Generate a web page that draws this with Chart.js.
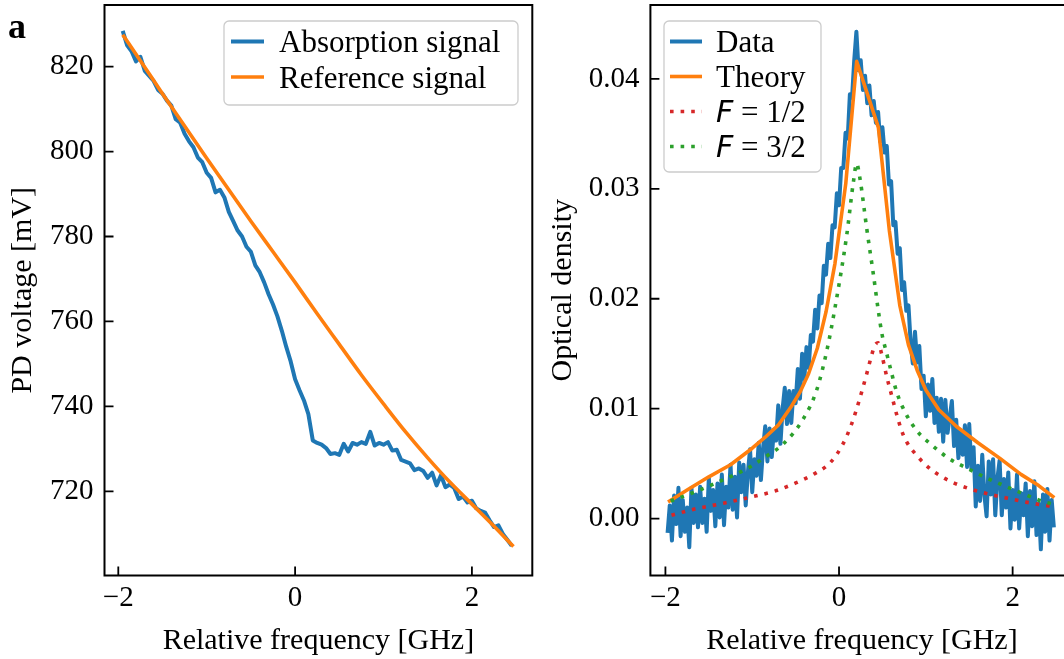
<!DOCTYPE html>
<html lang="en">
<head>
<meta charset="UTF-8">
<title>Absorption signal and optical density</title>
<script src="https://cdn.jsdelivr.net/npm/chart.js@4.4.1/dist/chart.umd.min.js"></script>
<style>
  html, body { margin: 0; padding: 0; background: #fff; overflow: hidden; }
  body { width: 1064px; height: 659px; position: relative; }
  canvas { position: absolute; top: 0; }
  #absChart { left: 0; }
  #odChart { left: 545px; }
</style>
</head>
<body>
<canvas id="absChart" width="545" height="659"></canvas>
<canvas id="odChart" width="545" height="659"></canvas>
<script>
// ---- panel a (left): photodiode voltage ----
var freqAbs = [-1.95,-1.90,-1.85,-1.80,-1.75,-1.70,-1.65,-1.60,-1.55,-1.50,-1.45,-1.40,-1.35,-1.30,-1.25,-1.20,-1.15,-1.10,-1.05,-1.00,
  -0.95,-0.90,-0.85,-0.80,-0.75,-0.70,-0.65,-0.60,-0.55,-0.50,-0.45,-0.40,-0.35,-0.30,-0.25,-0.20,-0.15,-0.10,-0.05,0.00,
  0.05,0.10,0.15,0.20,0.25,0.30,0.35,0.40,0.45,0.50,0.55,0.60,0.65,0.70,0.75,0.80,0.85,0.90,0.95,1.00,
  1.05,1.10,1.15,1.20,1.25,1.30,1.35,1.40,1.45,1.50,1.55,1.60,1.65,1.70,1.75,1.80,1.85,1.90,1.95,2.00,
  2.05,2.10,2.15,2.20,2.25,2.30,2.35,2.40,2.45];
var absSignal = [828.4,825.0,823.6,821.2,822.3,819.0,817.8,816.6,814.5,813.6,812.0,810.8,807.6,806.8,804.2,802.4,801.0,798.6,797.5,795.0,
  793.8,790.4,791.0,789.2,785.8,783.6,781.4,780.0,777.6,776.4,773.2,771.6,769.2,766.4,764.0,761.2,757.8,754.0,750.6,746.4,
  743.8,741.4,738.2,732.0,731.4,731.0,730.2,728.8,729.0,728.6,731.2,729.4,731.4,731.0,731.6,731.2,734.0,730.8,731.4,731.0,
  731.6,729.6,729.8,727.4,727.0,726.6,725.0,725.4,724.8,723.2,724.4,721.4,723.8,721.0,721.6,720.8,718.2,718.8,717.4,717.8,
  716.0,715.4,715.0,713.2,711.6,712.0,710.0,708.6,707.2];
var freqRef = [-1.95,-1.75,-1.5,-1.25,-1.0,-0.75,-0.5,-0.25,0,0.25,0.5,0.75,1.0,1.25,1.5,1.75,2.0,2.25,2.47];
var refSignal = [827.5,821.4,813.6,806.0,798.4,791.0,783.6,776.4,769.2,761.8,754.6,747.4,740.6,734.0,727.9,722.2,717.0,711.8,707.0];
var absXTicks = [-2, 0, 2];
var absYTicks = [720, 740, 760, 780, 800, 820];

// ---- panel b (right): optical density ----
var freqOD = [-1.975,-1.95,-1.925,-1.9,-1.875,-1.85,-1.825,-1.8,-1.775,-1.75,-1.725,-1.7,-1.675,-1.65,-1.625,-1.6,-1.575,-1.55,-1.525,-1.5,
  -1.475,-1.45,-1.425,-1.4,-1.375,-1.35,-1.325,-1.3,-1.275,-1.25,-1.225,-1.2,-1.175,-1.15,-1.125,-1.1,-1.075,-1.05,-1.025,-1.0,
  -0.975,-0.95,-0.925,-0.9,-0.875,-0.85,-0.825,-0.8,-0.775,-0.75,-0.725,-0.7,-0.675,-0.65,-0.625,-0.6,-0.575,-0.55,-0.525,-0.5,
  -0.475,-0.45,-0.425,-0.4,-0.375,-0.35,-0.325,-0.3,-0.275,-0.25,-0.225,-0.2,-0.175,-0.15,-0.125,-0.1,-0.075,-0.05,-0.025,0,
  0.025,0.05,0.075,0.1,0.125,0.15,0.175,0.2,0.225,0.25,0.275,0.3,0.325,0.35,0.375,0.4,0.425,0.45,0.475,0.5,
  0.525,0.55,0.575,0.6,0.625,0.65,0.675,0.7,0.725,0.75,0.775,0.8,0.825,0.85,0.875,0.9,0.925,0.95,0.975,1.0,
  1.025,1.05,1.075,1.1,1.125,1.15,1.175,1.2,1.225,1.25,1.275,1.3,1.325,1.35,1.375,1.4,1.425,1.45,1.475,1.5,
  1.525,1.55,1.575,1.6,1.625,1.65,1.675,1.7,1.725,1.75,1.775,1.8,1.825,1.85,1.875,1.9,1.925,1.95,1.975,2.0,
  2.025,2.05,2.075,2.1,2.125,2.15,2.175,2.2,2.225,2.25,2.275,2.3,2.325,2.35,2.375,2.4,2.425,2.45,2.475];
var odData = [-0.0013,0.0012,-0.0020,0.0021,-0.0005,0.0028,-0.0016,0.0017,-0.0012,0.0010,-0.0026,0.0028,-0.0004,0.0022,-0.0008,0.0029,-0.0004,0.0018,-0.0012,0.0037,
  0.0007,0.0026,-0.0007,0.0032,0.0001,0.0040,-0.0006,0.0029,0.0010,0.0049,0.0008,0.0038,0.0001,0.0051,0.0024,0.0049,0.0012,0.0042,0.0063,0.0024,
  0.0054,0.0039,0.0069,0.0035,0.0064,0.0084,0.0052,0.0082,0.0056,0.0081,0.0071,0.0103,0.0068,0.0100,0.0119,0.0086,0.0116,0.0087,0.0116,0.0105,
  0.0136,0.0109,0.0150,0.0127,0.0156,0.0137,0.0167,0.0161,0.0190,0.0173,0.0203,0.0196,0.0230,0.0222,0.0250,0.0237,0.0267,0.0265,0.0296,0.0285,
  0.0319,0.0319,0.0351,0.0346,0.0386,0.0383,0.0417,0.0443,0.0408,0.0417,0.0390,0.0403,0.0378,0.0394,0.0367,0.0380,0.0360,0.0370,0.0343,0.0356,
  0.0333,0.0339,0.0304,0.0307,0.0267,0.0270,0.0241,0.0246,0.0208,0.0215,0.0189,0.0194,0.0160,0.0141,0.0170,0.0142,0.0157,0.0118,0.0130,0.0093,
  0.0122,0.0098,0.0127,0.0087,0.0110,0.0079,0.0109,0.0070,0.0108,0.0078,0.0092,0.0107,0.0066,0.0090,0.0055,0.0080,0.0058,0.0085,0.0047,0.0086,
  0.0045,0.0065,0.0011,0.0048,0.0016,0.0058,0.0021,0.0002,0.0052,0.0022,0.0054,0.0003,0.0037,0.0053,0.0003,0.0036,0.0010,0.0042,-0.0009,0.0026,
  -0.0001,0.0040,-0.0009,0.0023,0.0003,0.0032,-0.0016,0.0025,-0.0007,0.0034,-0.0015,0.0014,-0.0028,0.0022,-0.0012,0.0027,-0.0020,0.0017,-0.0008];
var freqTheory = [-1.97,-1.75,-1.5,-1.25,-1.0,-0.85,-0.7,-0.55,-0.45,-0.35,-0.25,-0.15,-0.047,0.078,0.203,0.453,0.58,0.7,0.8,0.9,1.0,1.15,1.35,1.6,1.85,2.1,2.3,2.48];
var theory = [0.0015,0.0026,0.0038,0.0049,0.0064,0.0074,0.0085,0.0102,0.0115,0.0132,0.0155,0.0188,0.0232,0.0305,0.0416,0.0356,0.0262,0.0194,0.0158,0.0135,0.0117,0.0099,0.0084,0.0069,0.0055,0.0040,0.0030,0.0019];
var freqF12 = [-1.93,-1.7,-1.33,-0.99,-0.74,-0.51,-0.3,-0.1,0.04,0.14,0.2,0.26,0.32,0.37,0.41,0.45,0.49,0.55,0.61,0.67,0.74,0.8,0.9,0.97,1.07,1.28,1.51,1.74,1.97,2.22,2.45];
var odF12 = [0.0003,0.0008,0.0014,0.0020,0.0025,0.0032,0.0040,0.0051,0.0067,0.0085,0.0099,0.0115,0.0132,0.0147,0.0157,0.0160,0.0150,0.0129,0.0111,0.0093,0.0076,0.0067,0.0057,0.0051,0.0044,0.0034,0.0027,0.0022,0.0018,0.0014,0.0011];
var freqF32 = [-1.94,-1.7,-1.37,-1.025,-0.83,-0.64,-0.41,-0.257,-0.14,-0.046,0.089,0.165,0.203,0.242,0.319,0.396,0.453,0.492,0.55,0.607,0.665,0.76,0.895,1.068,1.26,1.47,1.7,1.93,2.14,2.37,2.47];
var odF32 = [0.0016,0.0023,0.0034,0.0047,0.0057,0.0068,0.0091,0.0117,0.0153,0.0192,0.0258,0.0306,0.0323,0.0309,0.0264,0.0222,0.0189,0.0169,0.0150,0.0132,0.0115,0.0097,0.0080,0.0067,0.0055,0.0046,0.0037,0.0029,0.0022,0.0015,0.0013];
var odXTicks = [-2, 0, 2];
var odYTicks = [0, 0.01, 0.02, 0.03, 0.04];

var SERIF = "'Liberation Serif', 'Times New Roman', serif";
Chart.defaults.font.family = SERIF;
Chart.defaults.color = '#000';

function pts(xs, ys) {
  return xs.map(function (x, i) { return { x: x, y: ys[i] }; });
}
function signed(v) {
  return v < 0 ? '\u2212' + (-v) : String(v);
}

// legend label, "F = ..." gets a sans italic F like the mathtext one
function drawLabel(ctx, text, x, y) {
  var m = text.match(/^F (.*)$/);
  if (m) {
    ctx.font = "italic 30px 'DejaVu Sans', sans-serif";
    ctx.fillText('F', x, y);
    var w = ctx.measureText('F').width;
    ctx.font = '31px ' + SERIF;
    ctx.fillText(' ' + m[1], x + w, y);
  } else {
    ctx.font = '31px ' + SERIF;
    ctx.fillText(text, x, y);
  }
}

// axes frame, inward tick marks, legend box and panel letter
var panelDecor = {
  id: 'panelDecor',
  afterDatasetsDraw: function (chart, args, opts) {
    var ctx = chart.ctx, a = chart.chartArea;
    var xs = chart.scales.x, ys = chart.scales.y;
    ctx.save();
    ctx.strokeStyle = '#000';
    ctx.lineWidth = 2;
    ctx.strokeRect(a.left, a.top, a.right - a.left, a.bottom - a.top);
    ctx.lineWidth = 1.8;
    ctx.beginPath();
    xs.ticks.forEach(function (t) {
      var p = xs.getPixelForValue(t.value);
      ctx.moveTo(p, a.bottom); ctx.lineTo(p, a.bottom - opts.tickLen);
    });
    ys.ticks.forEach(function (t) {
      var p = ys.getPixelForValue(t.value);
      ctx.moveTo(a.left, p); ctx.lineTo(a.left + opts.tickLen, p);
    });
    ctx.stroke();

    var L = opts.legend;
    ctx.fillStyle = 'rgba(255,255,255,0.8)';
    ctx.strokeStyle = '#cccccc';
    ctx.lineWidth = 1.3;
    ctx.beginPath();
    ctx.roundRect(L.x, L.y, L.w, L.h, 5);
    ctx.fill();
    ctx.stroke();
    chart.data.datasets.forEach(function (ds, i) {
      var y = L.firstRow + i * L.rowGap;
      ctx.strokeStyle = ds.borderColor;
      ctx.lineWidth = ds.borderWidth;
      ctx.setLineDash(ds.borderDash || []);
      ctx.beginPath();
      ctx.moveTo(L.handleX, y);
      ctx.lineTo(L.handleX + L.handleLen, y);
      ctx.stroke();
      ctx.setLineDash([]);
      ctx.fillStyle = '#000';
      ctx.textBaseline = 'alphabetic';
      ctx.textAlign = 'left';
      drawLabel(ctx, ds.label, L.textX, y + 10.5);
    });

    if (opts.letter) {
      ctx.fillStyle = '#000';
      ctx.font = 'bold 36px ' + SERIF;
      ctx.textBaseline = 'alphabetic';
      ctx.fillText(opts.letter, 8, 38);
    }
    ctx.restore();
  }
};

function makeOptions(cfg) {
  return {
    responsive: false,
    animation: false,
    devicePixelRatio: 1,
    layout: { padding: { top: 5, right: cfg.padRight, bottom: 0, left: 0 } },
    elements: {
      point: { radius: 0, hoverRadius: 0 },
      line: { tension: 0, borderJoinStyle: 'round', fill: false }
    },
    plugins: {
      legend: { display: false },
      tooltip: { enabled: false },
      panelDecor: cfg.decor
    },
    scales: {
      x: {
        type: 'linear',
        min: cfg.xMin, max: cfg.xMax,
        grid: { display: false, drawTicks: false },
        border: { display: false },
        afterBuildTicks: function (s) { s.ticks = cfg.xTicks.map(function (v) { return { value: v }; }); },
        afterFit: function (s) { s.height = 83.5; s.paddingLeft = 0; s.paddingRight = 0; },
        ticks: { font: { size: 29 }, color: '#000', padding: 5.6, maxRotation: 0, autoSkip: false, callback: signed },
        title: { display: true, text: 'Relative frequency [GHz]', color: '#000', font: { size: 30 }, padding: { top: 0, bottom: 0 } }
      },
      y: {
        type: 'linear',
        min: cfg.yMin, max: cfg.yMax,
        grid: { display: false, drawTicks: false },
        border: { display: false },
        afterBuildTicks: function (s) { s.ticks = cfg.yTicks.map(function (v) { return { value: v }; }); },
        afterFit: function (s) { s.width = cfg.yAxisW; s.paddingTop = 0; s.paddingBottom = 0; },
        ticks: { font: { size: 29 }, color: '#000', padding: 11, autoSkip: false, callback: cfg.yFmt },
        title: { display: true, text: cfg.yTitle, color: '#000', font: { size: 30 }, padding: { top: cfg.yTitlePad, bottom: 0 } }
      }
    }
  };
}

new Chart(document.getElementById('absChart'), {
  type: 'line',
  data: {
    datasets: [{
      label: 'Absorption signal',
      data: pts(freqAbs, absSignal),
      borderColor: '#1f77b4',
      borderWidth: 4,
      order: 2
    }, {
      label: 'Reference signal',
      data: pts(freqRef, refSignal),
      borderColor: '#ff7f0e',
      borderWidth: 3.6,
      cubicInterpolationMode: 'monotone',
      order: 1
    }]
  },
  options: makeOptions({
    padRight: 12.7,
    xMin: -2.156, xMax: 2.683, xTicks: absXTicks,
    yMin: 700.2, yMax: 834.5, yTicks: absYTicks,
    yAxisW: 104.5, yTitle: 'PD voltage [mV]', yTitlePad: 5.2,
    yFmt: function (v) { return String(v); },
    decor: {
      tickLen: 9, letter: 'a',
      legend: { x: 224, y: 21, w: 294, h: 84, handleX: 231, handleLen: 33, textX: 279, firstRow: 41.5, rowGap: 35.5 }
    }
  }),
  plugins: [panelDecor]
});

new Chart(document.getElementById('odChart'), {
  type: 'line',
  data: {
    datasets: [{
      label: 'Data',
      data: pts(freqOD, odData),
      borderColor: '#1f77b4',
      borderWidth: 4,
      order: 4
    }, {
      label: 'Theory',
      data: pts(freqTheory, theory),
      borderColor: '#ff7f0e',
      borderWidth: 3.6,
      order: 3
    }, {
      label: 'F = 1/2',
      data: pts(freqF12, odF12),
      borderColor: '#d62728',
      borderWidth: 3.6,
      borderDash: [3.6, 7],
      borderCapStyle: 'butt',
      cubicInterpolationMode: 'monotone',
      order: 2
    }, {
      label: 'F = 3/2',
      data: pts(freqF32, odF32),
      borderColor: '#2ca02c',
      borderWidth: 3.6,
      borderDash: [3.6, 7],
      borderCapStyle: 'butt',
      cubicInterpolationMode: 'monotone',
      order: 1
    }]
  },
  options: makeOptions({
    padRight: 16.6,
    xMin: -2.173, xMax: 2.70, xTicks: odXTicks,
    yMin: -0.00518, yMax: 0.04673, yTicks: odYTicks,
    yAxisW: 105.4, yTitle: 'Optical density', yTitlePad: 0.2,
    yFmt: function (v) { return v.toFixed(2); },
    decor: {
      tickLen: 9,
      legend: { x: 119, y: 21, w: 157, h: 151, handleX: 125, handleLen: 32, textX: 171, firstRow: 41.5, rowGap: 35 }
    }
  }),
  plugins: [panelDecor]
});
</script>
</body>
</html>
